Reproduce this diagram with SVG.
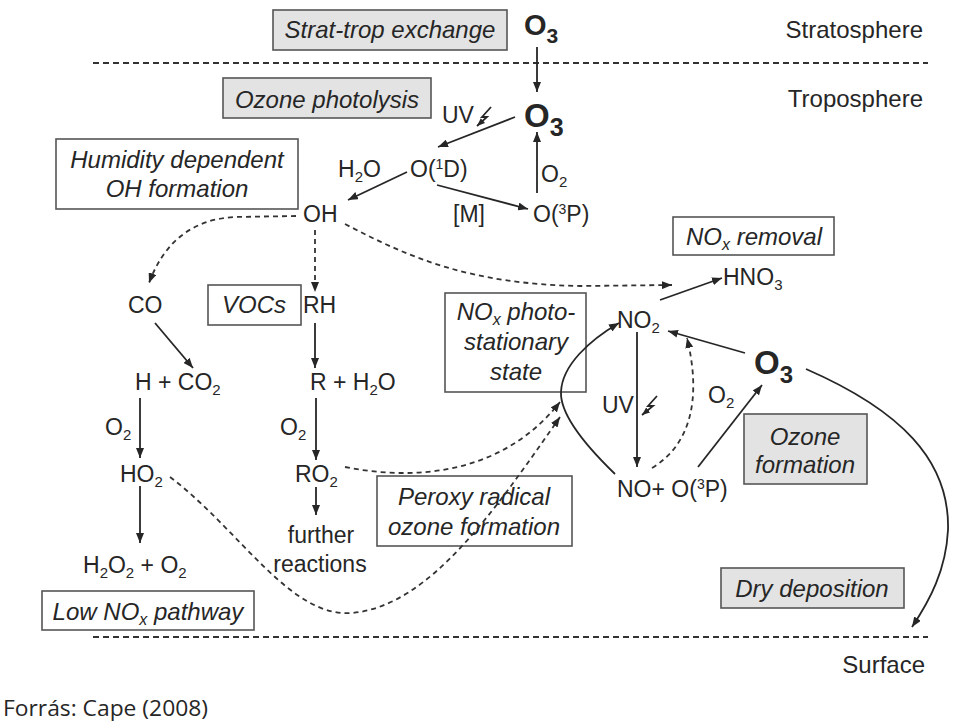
<svg xmlns="http://www.w3.org/2000/svg" width="960" height="723" viewBox="0 0 960 723" font-size="23">
<style>
text{font-family:"Liberation Sans",Arial,sans-serif;fill:#262626}
.lab{font-style:italic;font-size:24px;text-anchor:middle}
.big{font-weight:bold}
.gbox{fill:#e3e3e3;stroke:#555;stroke-width:1.6}
.wbox{fill:#fff;stroke:#555;stroke-width:1.6}
.ln{fill:none;stroke:#262626;stroke-width:1.8}
.dsh{fill:none;stroke:#333;stroke-width:1.8;stroke-dasharray:5 4}
.sep{fill:none;stroke:#333;stroke-width:2;stroke-dasharray:6 4}
.ar{marker-end:url(#ah)}
</style>
<defs>
<marker id="ah" viewBox="0 0 10 8" refX="10" refY="4" markerWidth="10" markerHeight="8" markerUnits="userSpaceOnUse" orient="auto"><path d="M0,0 L10,4 L0,8 z" fill="#262626"/></marker>
<marker id="ahs" viewBox="0 0 10 8" refX="10" refY="4" markerWidth="8" markerHeight="7" markerUnits="userSpaceOnUse" orient="auto"><path d="M0,0 L10,4 L0,8 z" fill="#262626"/></marker>
</defs>
<rect width="960" height="723" fill="#fff"/>

<g id="layers">
<line class="sep" x1="93" y1="63" x2="928" y2="63"/>
<line class="sep" x1="93" y1="637" x2="928" y2="637"/>
<text x="923" y="38" text-anchor="end" font-size="24">Stratosphere</text>
<text x="923" y="107" text-anchor="end" font-size="24">Troposphere</text>
<text x="925" y="673" text-anchor="end" font-size="24">Surface</text>
</g>

<g id="box-strat"><rect class="gbox" x="273" y="10" width="234" height="40"/><text class="lab" x="390" y="38">Strat-trop exchange</text></g>
<g id="box-photolysis"><rect class="gbox" x="223" y="78" width="208" height="40"/><text class="lab" x="327" y="108">Ozone photolysis</text></g>
<g id="box-humidity"><rect class="wbox" x="56" y="139" width="242" height="70"/><text class="lab" x="177" y="168">Humidity dependent</text><text class="lab" x="177" y="197">OH formation</text></g>
<g id="box-vocs"><rect class="wbox" x="208" y="285" width="93" height="40"/><text class="lab" x="254" y="313">VOCs</text></g>
<g id="box-noxremoval"><rect class="wbox" x="673" y="217" width="161" height="38"/><text class="lab" x="754" y="245">NO<tspan dy="5" font-size="16">x</tspan><tspan dy="-5"> removal</tspan></text></g>
<g id="box-pss"><rect class="wbox" x="445" y="293" width="141" height="99"/><text class="lab" x="516" y="320">NO<tspan dy="5" font-size="16">x</tspan><tspan dy="-5"> photo-</tspan></text><text class="lab" x="516" y="350">stationary</text><text class="lab" x="516" y="380">state</text></g>
<g id="box-peroxy"><rect class="wbox" x="377" y="476" width="195" height="70"/><text class="lab" x="474" y="505">Peroxy radical</text><text class="lab" x="474" y="535">ozone formation</text></g>
<g id="box-ozoneform"><rect class="gbox" x="744" y="414" width="123" height="70"/><text class="lab" x="805" y="445">Ozone</text><text class="lab" x="805" y="473">formation</text></g>
<g id="box-drydep"><rect class="gbox" x="721" y="568" width="183" height="40"/><text class="lab" x="812" y="597">Dry deposition</text></g>
<g id="box-lownox"><rect class="wbox" x="42" y="591" width="212" height="39"/><text class="lab" x="148" y="620">Low NO<tspan dy="5" font-size="16">x</tspan><tspan dy="-5"> pathway</tspan></text></g>

<g id="n-o3-strat"><text class="big" x="524" y="35" font-size="29">O<tspan dy="8" font-size="21">3</tspan></text></g>
<g id="n-o3-trop"><text class="big" x="524" y="127" font-size="33">O<tspan dy="9" font-size="25">3</tspan></text></g>
<g id="n-uv1"><text x="442" y="123">UV</text><polyline class="ln" points="491,107 482,117 487,117 477,126" stroke-width="1.7" marker-end="url(#ahs)"/></g>
<g id="n-h2o"><text x="338" y="177">H<tspan dy="5" font-size="15">2</tspan><tspan dy="-5">O</tspan></text></g>
<g id="n-o1d"><text x="410" y="177">O(<tspan dy="-8" font-size="14">1</tspan><tspan dy="8">D)</tspan></text></g>
<g id="n-o2a"><text x="541" y="182">O<tspan dy="5" font-size="15">2</tspan></text></g>
<g id="n-oh"><text x="303" y="222">OH</text></g>
<g id="n-m"><text x="453" y="222">[M]</text></g>
<g id="n-o3p"><text x="533" y="222">O(<tspan dy="-8" font-size="14">3</tspan><tspan dy="8">P)</tspan></text></g>
<g id="n-co"><text x="128" y="313">CO</text></g>
<g id="n-rh"><text x="303" y="313">RH</text></g>
<g id="n-hco2"><text x="135" y="390">H + CO<tspan dy="5" font-size="15">2</tspan></text></g>
<g id="n-rh2o"><text x="310" y="390">R + H<tspan dy="5" font-size="15">2</tspan><tspan dy="-5">O</tspan></text></g>
<g id="n-o2b"><text x="105" y="435">O<tspan dy="5" font-size="15">2</tspan></text></g>
<g id="n-o2c"><text x="280" y="435">O<tspan dy="5" font-size="15">2</tspan></text></g>
<g id="n-ho2"><text x="120" y="482">HO<tspan dy="5" font-size="15">2</tspan></text></g>
<g id="n-ro2"><text x="295" y="482">RO<tspan dy="5" font-size="15">2</tspan></text></g>
<g id="n-h2o2"><text x="83" y="573">H<tspan dy="5" font-size="15">2</tspan><tspan dy="-5">O</tspan><tspan dy="5" font-size="15">2</tspan><tspan dy="-5"> + O</tspan><tspan dy="5" font-size="15">2</tspan></text></g>
<g id="n-further"><text x="321" y="543" text-anchor="middle">further</text><text x="320" y="572" text-anchor="middle">reactions</text></g>
<g id="n-hno3"><text x="723" y="285">HNO<tspan dy="5" font-size="15">3</tspan></text></g>
<g id="n-no2"><text x="617" y="328">NO<tspan dy="5" font-size="15">2</tspan></text></g>
<g id="n-uv2"><text x="602" y="413">UV</text><polyline class="ln" points="657,396 648,406 653,406 642,415" stroke-width="1.7" marker-end="url(#ahs)"/></g>
<g id="n-no"><text x="617" y="497">NO+ O(<tspan dy="-8" font-size="14">3</tspan><tspan dy="8">P)</tspan></text></g>
<g id="n-o2d"><text x="708" y="403">O<tspan dy="5" font-size="15">2</tspan></text></g>
<g id="n-o3-right"><text class="big" x="754" y="374" font-size="33">O<tspan dy="9" font-size="24">3</tspan></text></g>

<g id="connectors">
<line class="ln ar" x1="537" y1="47" x2="537" y2="92"/>
<line class="ln ar" x1="515" y1="117" x2="438" y2="147"/>
<line class="ln ar" x1="407" y1="172" x2="348" y2="200"/>
<line class="ln ar" x1="437" y1="185" x2="528" y2="209"/>
<line class="ln ar" x1="537" y1="193" x2="537" y2="132"/>
<path class="dsh ar" d="M296 216 L235 217 C190 219 163 245 149 283"/>
<line class="dsh ar" x1="315" y1="230" x2="315" y2="292"/>
<path class="dsh ar" d="M345 224 C410 258 470 284 580 286 L672 285"/>
<line class="ln ar" x1="155" y1="323" x2="193" y2="368"/>
<line class="ln ar" x1="315" y1="323" x2="315" y2="368"/>
<line class="ln ar" x1="140" y1="398" x2="140" y2="458"/>
<line class="ln ar" x1="140" y1="486" x2="140" y2="543"/>
<line class="ln ar" x1="316" y1="398" x2="316" y2="460"/>
<line class="ln ar" x1="316" y1="487" x2="316" y2="515"/>
<path class="dsh ar" d="M170 477 C240 530 290 618 352 613 C430 606 495 510 560 417"/>
<path class="dsh ar" d="M345 467 C420 482 505 472 560 402"/>
<line class="ln ar" x1="660" y1="300" x2="722" y2="278"/>
<line class="ln ar" x1="637" y1="332" x2="637" y2="467" stroke-width="1.4"/>
<path class="ln ar" d="M615 474 C585 445 560 415 561 392 C562 365 590 340 619 323"/>
<path class="dsh ar" d="M652 468 C690 445 702 400 687 338"/>
<line class="ln ar" x1="745" y1="353" x2="668" y2="331"/>
<line class="ln ar" x1="698" y1="467" x2="762" y2="385"/>
<path class="ln ar" d="M806 369 C900 410 950 460 948 530 C946 570 930 600 912 627"/>
</g>

<text x="3" y="716" style="font-family:'Open Sans','Liberation Sans',sans-serif;font-size:22px" textLength="205" lengthAdjust="spacingAndGlyphs">Forrás: Cape (2008)</text>
</svg>
